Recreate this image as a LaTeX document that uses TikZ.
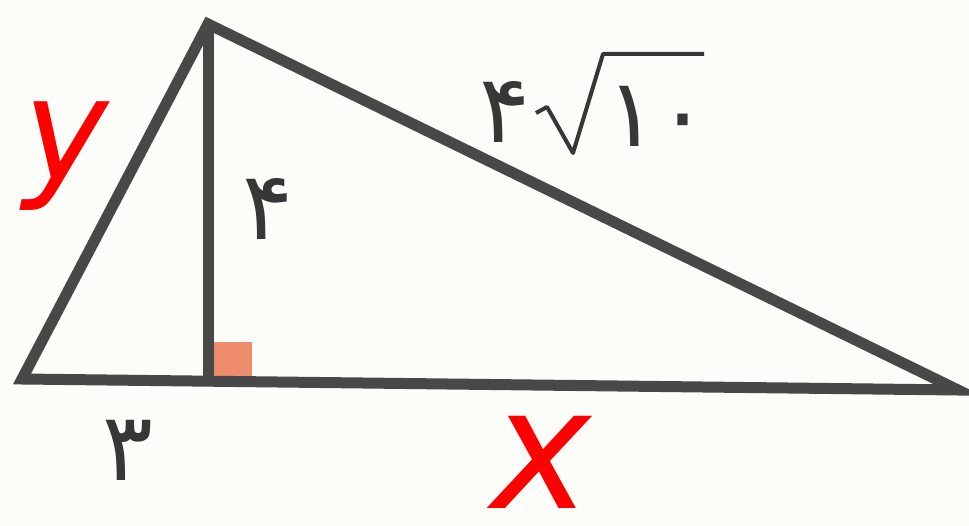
\documentclass[tikz,border=0pt]{standalone}
\usepackage{fontspec}
\newfontfamily\arabicfont[Script=Arabic]{DejaVu Sans}
\newfontfamily\handfont{DejaVu Sans}
\definecolor{linegray}{RGB}{72,72,72}
\definecolor{txtgray}{RGB}{55,55,55}
\definecolor{salmon}{RGB}{240,140,110}
\definecolor{paper}{RGB}{252,252,248}
\definecolor{marker}{RGB}{255,0,0}
\begin{document}
\begin{tikzpicture}[x=0.02cm,y=-0.02cm,
  edge/.style={draw=linegray,line width=0.22cm,line join=miter,line cap=butt},
  digit/.style={text=txtgray,inner sep=0pt,anchor=base,font=\arabicfont\fontsize{54}{54}\selectfont},
  hand/.style={text=marker,inner sep=0pt,font=\handfont\fontsize{82}{82}\selectfont\slshape}]
\fill[paper] (0,0) rectangle (969,526);
\useasboundingbox (0,0) rectangle (969,526);
\coordinate (A) at (22,379);
\coordinate (B) at (208,24);
\coordinate (C) at (958,390);
\coordinate (H) at (208,381);
\coordinate (S1) at (214,342);
\coordinate (S2) at (252,381);
\fill[salmon] (S1) rectangle (S2);
\draw[edge] (A) -- (B) -- (C) -- cycle;
\draw[edge] (B) -- (H);
% labels
\node[digit] (h) at (268,240) {۴};
\node[digit] (three) at (128,480) {۳};
\node[digit] (four) at (505,143) {۴};
\node[digit] (ten) at (657,147) {۱۰};
\coordinate (r1) at (536,113);
\coordinate (r2) at (547,107);
\coordinate (r3) at (573,153);
\coordinate (r4) at (603,54);
\coordinate (r5) at (704,54);
\draw[txtgray,line width=0.08cm,line join=round] (r1) -- (r2) -- (r3) -- (r4) -- (r5);
\node[hand] (y) at (66,156) {y};
\node[hand,font=\handfont\fontsize{96}{96}\selectfont\slshape] (x) at (541,462) {x};
\end{tikzpicture}
\end{document}
